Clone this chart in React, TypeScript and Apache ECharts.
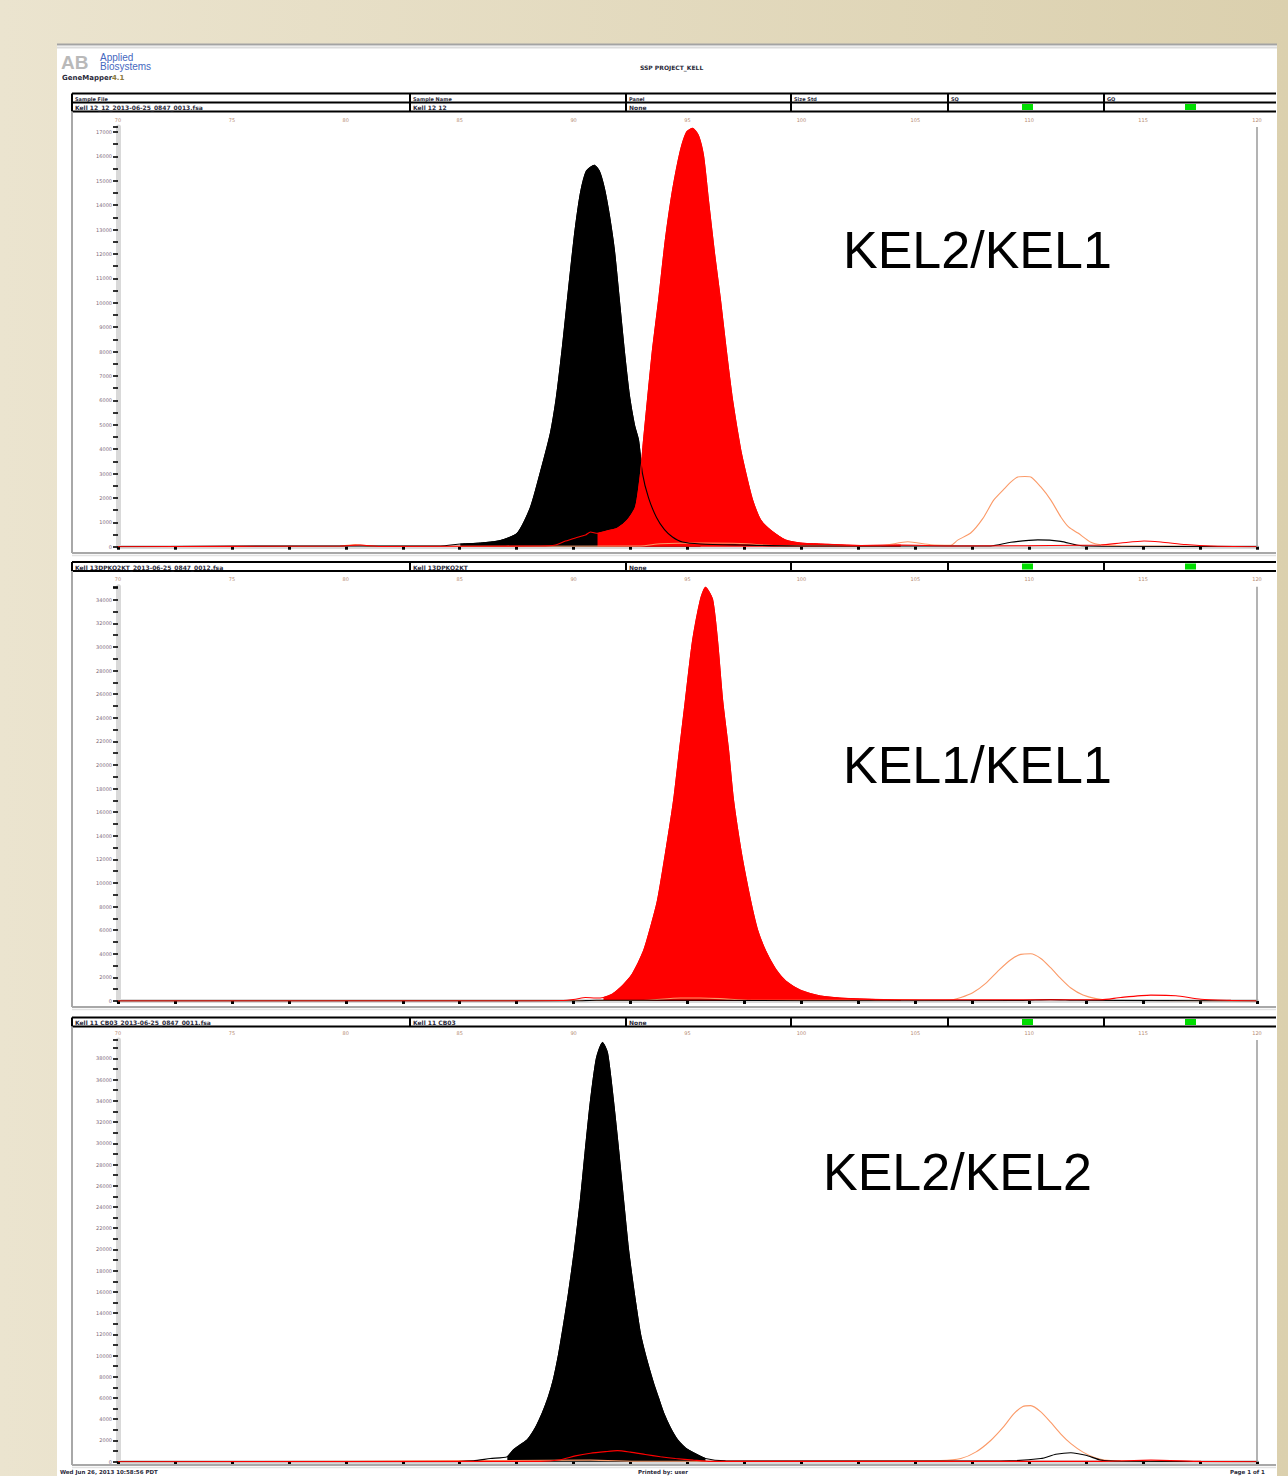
import React, { useEffect, useRef } from "react";
import * as echarts from "echarts";

// ---------- axes ----------
const xMin = 70;
const xMax = 120;
const xInterval = 5;
const yMaxes = [17206, 35110, 39730];
const yIntervals = [1000, 2000, 2000];

// ---------- panel 1 (KEL2/KEL1) ----------
const p1Black: number[][] = [
  [70, 0], [78, 30], [84.15, 30], [85.03, 110], [85.91, 150], [86.78, 250], [87.53, 560], [88.1, 1600],
  [88.54, 3050], [88.98, 4650], [89.24, 6100], [89.51, 8200], [89.77, 10500], [90.04, 12800], [90.3, 14500],
  [90.56, 15400], [90.91, 15640], [91.13, 15400], [91.35, 14700], [91.57, 13590], [91.79, 12160], [92.01, 10100],
  [92.23, 8000], [92.45, 6200], [92.67, 5000], [92.85, 4370], [93.02, 3020], [93.29, 2000], [93.64, 1200],
  [93.99, 700], [94.34, 400], [94.78, 190], [95.57, 110], [97.33, 70], [99.97, 30], [108.31, 30], [109.19, 180],
  [110.38, 280], [111.39, 220], [112.14, 60], [113.15, 20], [120, 0],
];
const p1Red: number[][] = [
  [70, 0], [79.75, 30], [80.63, 70], [81.51, 10], [88.54, 30], [89.2, 70], [89.64, 230], [90.08, 360],
  [90.52, 480], [90.74, 600], [91.05, 550], [91.49, 650], [91.92, 760], [92.36, 1090], [92.72, 1630],
  [92.94, 3020], [93.07, 4370], [93.24, 6000], [93.46, 8050], [93.73, 10100], [94.03, 12600], [94.34, 14600],
  [94.69, 16250], [94.96, 17000], [95.22, 17150], [95.48, 16860], [95.7, 16050], [95.92, 14200], [96.19, 12000],
  [96.45, 10100], [96.71, 8000], [96.98, 6000], [97.33, 4000], [97.59, 2900], [97.86, 1910], [98.21, 1100],
  [98.65, 680], [99.31, 270], [99.97, 150], [100.84, 110], [102.6, 50], [104.36, 70], [106.56, 30],
  [113.15, 70], [114.02, 150], [115.04, 235], [115.78, 190], [116.88, 90], [117.98, 30], [120, 0],
];
const p1Orange: number[][] = [
  [70, 0], [79.75, 20], [80.41, 90], [81.07, 20], [92.94, 30], [93.81, 120], [95.57, 150], [97.33, 130],
  [99.09, 40], [103.48, 40], [104.67, 200], [105.68, 80], [106.56, 60], [106.86, 270], [107.43, 560],
  [107.96, 1150], [108.44, 1910], [108.88, 2350], [109.19, 2650], [109.5, 2860], [109.81, 2880], [110.07, 2860],
  [110.51, 2450], [110.95, 1910], [111.39, 1220], [111.74, 800], [112.14, 560], [112.71, 180], [113.15, 80],
  [114.02, 40], [120, 0],
];
const p1BlackFill = [85.0, 95.6];
const p1RedFill = [91.05, 104.4];

// ---------- panel 2 (KEL1/KEL1) ----------
const p2Black: number[][] = [
  [70, 0], [90.08, 0], [91.0, 60], [96.0, 60], [99.97, 20], [109.63, 40], [110.95, 120], [112.14, 60], [120, 0],
];
const p2Red: number[][] = [
  [70, 0], [86.78, 0], [89.42, 40], [90.08, 150], [90.52, 300], [90.96, 250], [91.31, 300], [91.71, 600],
  [92.14, 1300], [92.58, 2300], [93.07, 4255], [93.37, 6200], [93.68, 8510], [94.03, 12500], [94.39, 17020],
  [94.65, 21300], [94.91, 25530], [95.22, 30500], [95.57, 34040], [95.79, 35060], [96.1, 34040], [96.32, 30500],
  [96.54, 25530], [96.8, 21300], [97.02, 17020], [97.37, 12500], [97.77, 8510], [98.08, 6000], [98.43, 4255],
  [98.87, 2700], [99.31, 1700], [99.97, 900], [100.84, 425], [102.16, 200], [104.36, 100], [113.15, 100],
  [114.02, 300], [115.34, 500], [116.44, 450], [117.54, 150], [118.86, 50], [120, 0],
];
const p2Orange: number[][] = [
  [70, 0], [80.41, 40], [92.94, 40], [94.69, 250], [95.57, 250], [96.45, 200], [97.77, 60], [103.48, 60],
  [104.36, 120], [105.68, 60], [106.56, 80], [107.0, 300], [107.52, 700], [108.09, 1500], [108.66, 2600],
  [109.19, 3500], [109.63, 3950], [110.07, 4000], [110.51, 3600], [110.95, 2800], [111.39, 1900], [111.83, 1100],
  [112.36, 500], [112.93, 200], [113.59, 60], [120, 0],
];
const p2RedFill = [91.31, 104.4];

// ---------- panel 3 (KEL2/KEL2) ----------
const p3Black: number[][] = [
  [70, 0], [84.15, 0], [85.6, 80], [86.34, 300], [87.09, 470], [87.36, 1130], [87.66, 1600], [87.97, 2075],
  [88.32, 3200], [88.63, 4620], [88.89, 6100], [89.11, 7736], [89.33, 10000], [89.55, 12800], [89.77, 15800],
  [90.04, 20000], [90.3, 24700], [90.52, 29500], [90.74, 34000], [91.0, 38000], [91.27, 39500], [91.49, 38500],
  [91.75, 34000], [91.97, 29500], [92.19, 24700], [92.41, 20000], [92.67, 15800], [92.94, 12000], [93.2, 9700],
  [93.51, 7400], [93.73, 6000], [93.95, 4620], [94.25, 3200], [94.56, 2075], [94.91, 1300], [95.26, 850],
  [95.79, 300], [96.67, 80], [104.36, 50], [108.75, 60], [110.51, 300], [111.17, 700], [111.83, 850],
  [112.49, 600], [113.15, 150], [114.02, 40], [120, 0],
];
const p3Red: number[][] = [
  [70, 0], [88.54, 30], [89.42, 190], [90.08, 550], [90.74, 800], [91.4, 950], [91.92, 1040], [92.5, 900],
  [93.15, 680], [93.81, 470], [94.47, 300], [95.26, 150], [96.01, 30], [113.15, 30], [115.34, 150],
  [117.54, 30], [120, 0],
];
const p3Orange: number[][] = [
  [70, 0], [80.41, 40], [90.74, 150], [92.94, 40], [103.48, 50], [106.12, 100], [107.0, 300], [107.65, 900],
  [108.31, 2000], [108.88, 3300], [109.32, 4500], [109.72, 5200], [110.07, 5280], [110.51, 4700],
  [110.95, 3700], [111.39, 2600], [111.83, 1700], [112.36, 900], [112.93, 350], [113.59, 100], [120, 0],
];
const p3BlackFill = [87.09, 95.8];

// ---------- texts ----------
const genotypes = ["KEL2/KEL1", "KEL1/KEL1", "KEL2/KEL2"];
const headerTitles = ["Sample File", "Sample Name", "Panel", "Size Std", "SQ", "GQ"];
const sampleFiles = [
  "Kell 12_12_2013-06-25_0847_0013.fsa",
  "Kell 13DPKO2KT_2013-06-25_0847_0012.fsa",
  "Kell 11 CB03_2013-06-25_0847_0011.fsa",
];
const sampleNames = ["Kell 12 12", "Kell 13DPKO2KT", "Kell 11 CB03"];
const panelNames = ["None", "None", "None"];
const projectTitle = "SSP PROJECT_KELL";
const footer = ["Wed Jun 26, 2013 10:58:56 PDT", "Printed by: user", "Page 1 of 1"];

const BLACK = "#000000";
const RED = "#ff0000";
const ORANGE = "#fb9a68";

// layout (pixels)
const W = 1288;
const H = 1476;
const gridLeft = 118;
const gridRight = 31;
const grids = [
  { top: 127, base: 546.7 },
  { top: 586.7, base: 1001 },
  { top: 1040, base: 1461.7 },
];
const tables = [
  { top: 93.5, rows: 2 },
  { top: 562, rows: 1 },
  { top: 1017.5, rows: 1 },
];
const boxBottoms = [553, 1007, 1465];
const colX = [72, 410, 626, 791, 948, 1104, 1276];
const labelPos = [
  { x: 843, y: 250 },
  { x: 843, y: 765 },
  { x: 823, y: 1172 },
];
const SMOOTH = 0.22;

function tiny(x: number, y: number, text: string, extra: any = {}) {
  return {
    type: "text",
    x,
    y,
    z: 12,
    style: {
      text,
      fill: "#2a2a3a",
      fontSize: 6,
      fontWeight: "bold",
      fontFamily: "DejaVu Sans",
      verticalAlign: "middle",
      ...extra,
    },
  };
}

function headerEls(i: number) {
  const rowH = 9;
  const { top, rows } = tables[i];
  const bottom = top + rows * rowH;
  const els: any[] = [];
  els.push({ type: "rect", shape: { x: 72, y: top, width: 1204, height: rows * rowH }, style: { fill: "#fff" }, z: 9 });
  for (let r = 0; r <= rows; r++) {
    els.push({ type: "line", shape: { x1: 72, y1: top + r * rowH, x2: 1276, y2: top + r * rowH }, style: { stroke: "#000", lineWidth: 2 }, z: 10 });
  }
  colX.slice(0, 6).forEach((x) =>
    els.push({ type: "line", shape: { x1: x, y1: top, x2: x, y2: bottom }, style: { stroke: "#000", lineWidth: 2 }, z: 10 })
  );
  if (rows === 2) headerTitles.forEach((t, k) => els.push(tiny(colX[k] + 3, top + rowH / 2 + 0.5, t, { fontSize: 5 })));
  const vTop = top + (rows - 1) * rowH;
  [sampleFiles[i], sampleNames[i], panelNames[i]].forEach((t, k) => els.push(tiny(colX[k] + 3, vTop + rowH / 2 + 0.5, t)));
  [1022, 1185].forEach((x) =>
    els.push({ type: "rect", shape: { x, y: vTop + 1.5, width: 11, height: rowH - 3 }, style: { fill: "#00dd00" }, z: 11 })
  );
  // plot box
  els.push({ type: "line", shape: { x1: 72, y1: bottom, x2: 72, y2: boxBottoms[i] }, style: { stroke: "#a8a8a8", lineWidth: 2 }, z: 10 });
  els.push({ type: "line", shape: { x1: 72, y1: boxBottoms[i], x2: 1276, y2: boxBottoms[i] }, style: { stroke: "#a8a8a8", lineWidth: 2 }, z: 10 });
  els.push({ type: "line", shape: { x1: 72, y1: boxBottoms[i] + 2.5, x2: 1276, y2: boxBottoms[i] + 2.5 }, style: { stroke: "#e2e2e2", lineWidth: 1.5 }, z: 10 });
  // right plot edge
  els.push({ type: "line", shape: { x1: W - gridRight, y1: grids[i].top, x2: W - gridRight, y2: grids[i].base }, style: { stroke: "#9a9a9a", lineWidth: 1.5 }, z: 10 });
  return els;
}

function subset(data: number[][], range: number[]) {
  return data.filter((p) => p[0] >= range[0] && p[0] <= range[1]);
}

function areaSeries(data: number[][], range: number[], color: string, idx: number, z: number) {
  return {
    type: "line",
    xAxisIndex: idx,
    yAxisIndex: idx,
    data: subset(data, range),
    symbol: "none",
    silent: true,
    smooth: SMOOTH,
    z,
    lineStyle: { width: 1, color },
    itemStyle: { color },
    areaStyle: { color, opacity: 1 },
  };
}

function lineSeries(data: number[][], color: string, idx: number, z: number) {
  return {
    type: "line",
    xAxisIndex: idx,
    yAxisIndex: idx,
    data,
    symbol: "none",
    silent: true,
    smooth: SMOOTH,
    z,
    lineStyle: { width: 1.1, color },
    itemStyle: { color },
  };
}

export default function App() {
  const ref = useRef<HTMLDivElement>(null);

  useEffect(() => {
    document.body.style.margin = "0";
    if (!ref.current) return;
    const chart = echarts.init(ref.current, undefined, { renderer: "svg" });

    const gridOpts = grids.map((g) => ({
      left: gridLeft,
      right: gridRight,
      top: g.top,
      height: g.base - g.top,
      containLabel: false,
    }));

    const xAxes = grids.map((_, i) => ({
      type: "value",
      gridIndex: i,
      position: "top",
      min: xMin,
      max: xMax,
      interval: xInterval,
      z: 3,
      axisLine: { show: true, lineStyle: { color: "#d9d9d9", width: 4 } },
      axisTick: { show: true, inside: true, length: 3, lineStyle: { color: "#000", width: 3 } },
      minorTick: { show: true, splitNumber: 2, length: 3, lineStyle: { color: "#000", width: 3 } },
      axisLabel: { fontSize: 5, color: "#b58a72", margin: 5, fontFamily: "DejaVu Sans" },
      splitLine: { show: false },
    }));

    const yAxes = grids.map((_, i) => ({
      type: "value",
      gridIndex: i,
      min: 0,
      max: yMaxes[i],
      interval: yIntervals[i],
      z: 3,
      axisLine: { show: true, lineStyle: { color: "#d9d9d9", width: 5 } },
      axisTick: { show: true, length: 5, lineStyle: { color: "#000", width: 1.6 } },
      minorTick: { show: true, splitNumber: 2, length: 5, lineStyle: { color: "#000", width: 1.6 } },
      axisLabel: {
        fontSize: 5,
        color: "#7d6878",
        margin: 6,
        showMaxLabel: false,
        fontFamily: "DejaVu Sans",
        formatter: (v: number) => String(v),
      },
      splitLine: { show: false },
    }));

    const series: any[] = [
      // panel 1
      areaSeries(p1Black, p1BlackFill, BLACK, 0, 4),
      areaSeries(p1Red, p1RedFill, RED, 0, 5),
      lineSeries(p1Orange, ORANGE, 0, 6),
      lineSeries(p1Black, BLACK, 0, 7),
      lineSeries(p1Red, RED, 0, 8),
      // panel 2
      areaSeries(p2Red, p2RedFill, RED, 1, 5),
      lineSeries(p2Orange, ORANGE, 1, 6),
      lineSeries(p2Black, BLACK, 1, 7),
      lineSeries(p2Red, RED, 1, 8),
      // panel 3
      areaSeries(p3Black, p3BlackFill, BLACK, 2, 4),
      lineSeries(p3Orange, ORANGE, 2, 6),
      lineSeries(p3Black, BLACK, 2, 7),
      lineSeries(p3Red, RED, 2, 8),
    ];

    const graphics: any[] = [
      {
        type: "rect",
        shape: { x: 0, y: 0, width: W, height: H },
        style: {
          fill: new echarts.graphic.LinearGradient(0, 0, 1, 0, [
            { offset: 0, color: "#ebe4cf" },
            { offset: 1, color: "#dbd0ae" },
          ]),
        },
        z: 0,
      },
      { type: "rect", shape: { x: 57, y: 44, width: 1220, height: H - 44 }, style: { fill: "#ffffff" }, z: 1 },
      { type: "line", shape: { x1: 57, y1: 44.5, x2: 1277, y2: 44.5 }, style: { stroke: "#a3a3a3", lineWidth: 2 }, z: 2 },
      { type: "line", shape: { x1: 57, y1: 47.5, x2: 1277, y2: 47.5 }, style: { stroke: "#dcdcdc", lineWidth: 2 }, z: 2 },
      // logo
      { type: "text", x: 61, y: 62, z: 12, style: { text: "AB", fill: "#b9b9b9", fontSize: 19, fontWeight: "bold", fontFamily: "Liberation Sans", verticalAlign: "middle" } },
      { type: "text", x: 100, y: 57, z: 12, style: { text: "Applied", fill: "#4568c0", fontSize: 10, fontFamily: "Liberation Sans", verticalAlign: "middle" } },
      { type: "text", x: 100, y: 66, z: 12, style: { text: "Biosystems", fill: "#4568c0", fontSize: 10, fontFamily: "Liberation Sans", verticalAlign: "middle" } },
      tiny(62, 78, "GeneMapper", { fontSize: 7 }),
      tiny(112, 78, "4.1", { fontSize: 7, fill: "#8a7a40" }),
      tiny(640, 67, projectTitle, { fontSize: 6 }),
      tiny(60, 1472, footer[0], { fontSize: 5.5 }),
      tiny(638, 1472, footer[1], { fontSize: 5.5 }),
      tiny(1230, 1472, footer[2], { fontSize: 5.5 }),
      ...headerEls(0),
      ...headerEls(1),
      ...headerEls(2),
      ...genotypes.map((t, i) => ({
        type: "text",
        x: labelPos[i].x,
        y: labelPos[i].y,
        z: 30,
        style: { text: t, fill: "#000", fontSize: 52, fontFamily: "Liberation Sans", verticalAlign: "middle" },
      })),
    ];

    chart.setOption({
      animation: false,
      grid: gridOpts,
      xAxis: xAxes,
      yAxis: yAxes,
      series,
      graphic: { elements: graphics },
    });

    return () => chart.dispose();
  }, []);

  return <div ref={ref} style={{ width: W, height: H }} />;
}
